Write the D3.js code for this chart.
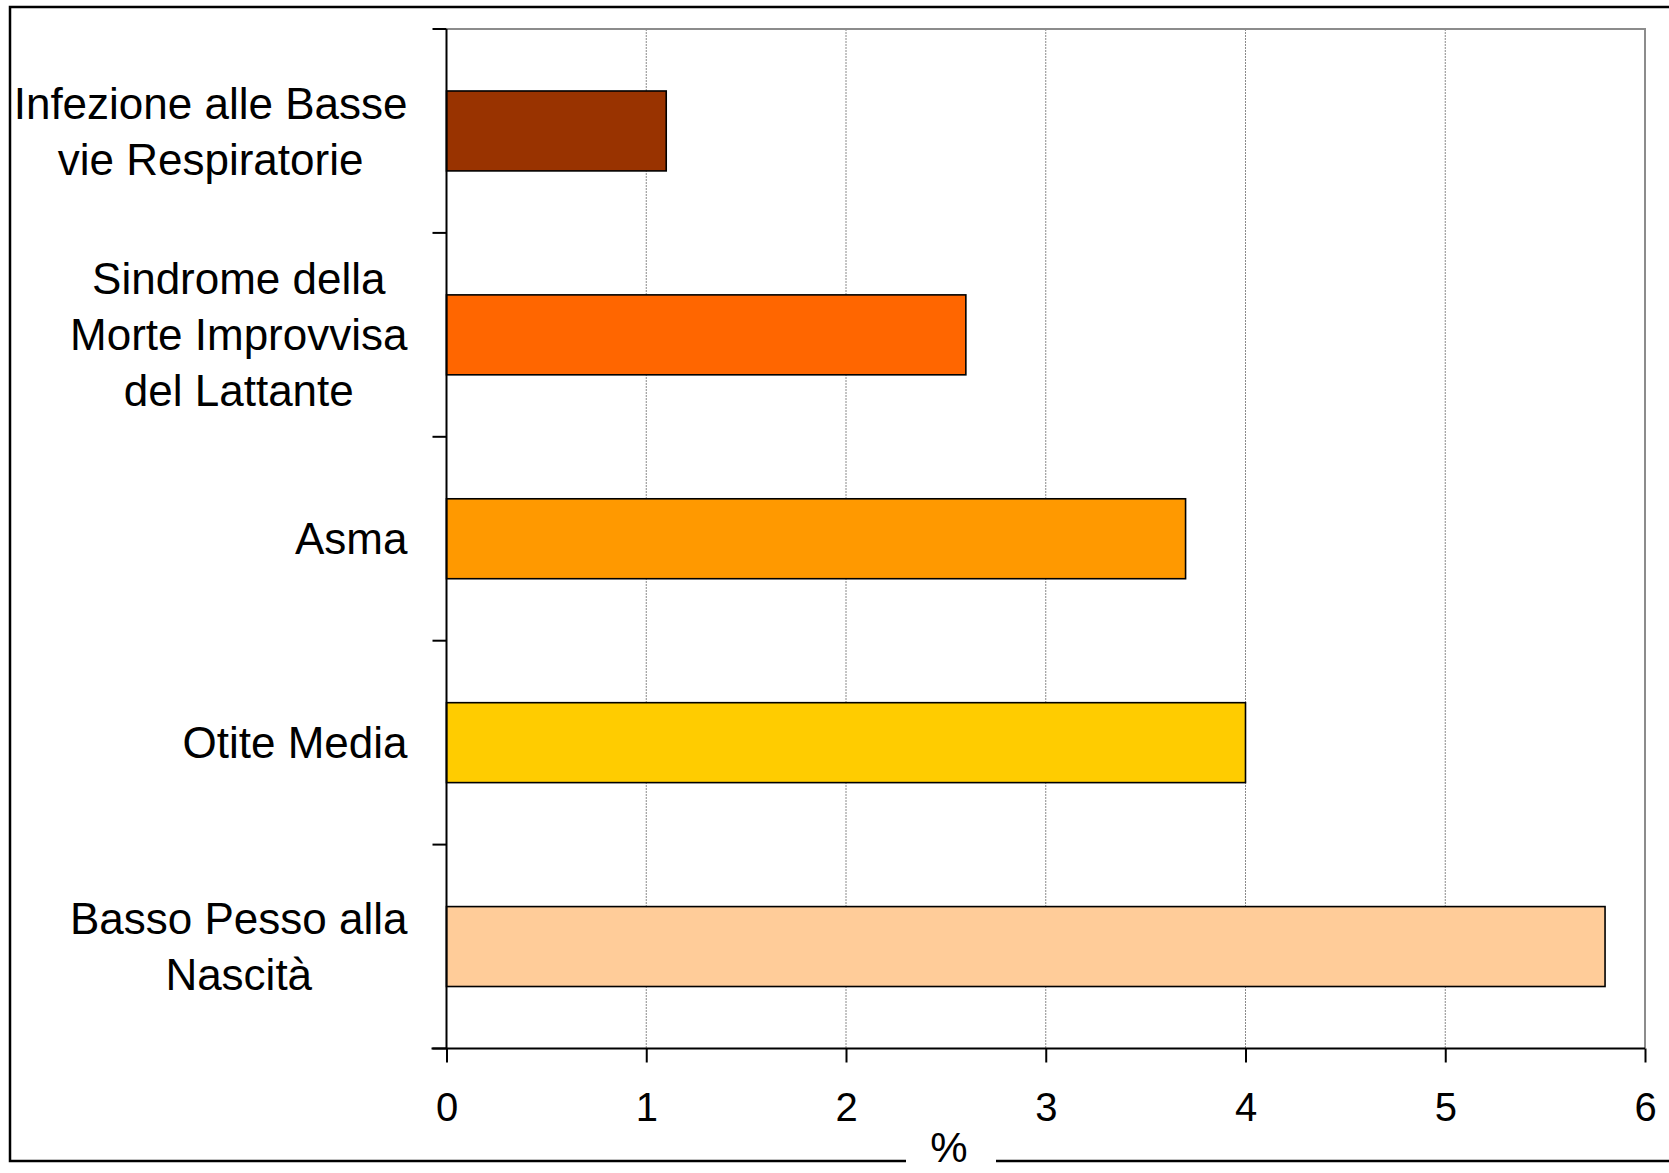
<!DOCTYPE html>
<html>
<head>
<meta charset="utf-8">
<script src="https://cdn.jsdelivr.net/npm/d3@7"></script>
<style>
  html, body { margin: 0; padding: 0; background: #fff; }
  svg { display: block; }
  text { font-family: "Liberation Sans", Arial, sans-serif; fill: #000; }
</style>
</head>
<body>
<script>
// Categories (top to bottom), one array of text lines per category
const categories = [
  ["Infezione alle Basse", "vie Respiratorie"],
  ["Sindrome della", "Morte Improvvisa", "del Lattante"],
  ["Asma"],
  ["Otite Media"],
  ["Basso Pesso alla", "Nascità"]
];
const values = [1.1, 2.6, 3.7, 4.0, 5.8];
const colors = ["#993300", "#FF6600", "#FF9900", "#FFCC00", "#FFCC99"];
const xTicks = [0, 1, 2, 3, 4, 5, 6];
const xTitle = "%";

const W = 1669, H = 1173;
const plot = { left: 446.5, right: 1645, top: 29, bottom: 1048.5 };
const labelFont = 44, tickFont = 40, lineGap = 56;

const svg = d3.select("body").append("svg")
  .attr("width", W).attr("height", H);

const keys = categories.map((c, i) => i);

const x = d3.scaleLinear().domain([0, 6]).range([plot.left, plot.right]);
const y = d3.scaleBand().domain(keys)
  .range([plot.top, plot.bottom])
  .paddingInner(0.608).paddingOuter(0.304);

// Outer chart frame (right side runs past the page edge)
svg.append("rect")
  .attr("x", 10).attr("y", 7)
  .attr("width", W + 20).attr("height", 1161 - 7)
  .attr("fill", "none").attr("stroke", "#000").attr("stroke-width", 2.5);

// Vertical gridlines
svg.append("g").selectAll("line")
  .data(xTicks.filter(t => t > 0 && t < 6))
  .join("line")
  .attr("x1", d => x(d)).attr("x2", d => x(d))
  .attr("y1", plot.top).attr("y2", plot.bottom)
  .attr("stroke", "#8a8a8a").attr("stroke-width", 1)
  .attr("stroke-dasharray", "2,1");

// Plot area border (top and right, grey)
svg.append("path")
  .attr("d", `M${plot.left},${plot.top}H${plot.right}V${plot.bottom}`)
  .attr("fill", "none").attr("stroke", "#8c8c8c").attr("stroke-width", 2);

// Bars
svg.append("g").selectAll("rect")
  .data(values)
  .join("rect")
  .attr("x", x(0))
  .attr("y", (d, i) => y(i))
  .attr("width", d => x(d) - x(0))
  .attr("height", y.bandwidth())
  .attr("fill", (d, i) => colors[i])
  .attr("stroke", "#000").attr("stroke-width", 1.6);

// X axis
const xAxis = d3.axisBottom(x).tickValues(xTicks).tickSize(14).tickPadding(30)
  .tickFormat(d3.format("d"));
const gx = svg.append("g")
  .attr("transform", `translate(0,${plot.bottom})`)
  .call(xAxis);
gx.select(".domain").attr("stroke", "#000").attr("stroke-width", 2)
  .attr("d", `M${plot.left - 15},0H${plot.right}`);
gx.selectAll(".tick line").attr("stroke", "#000").attr("stroke-width", 2);
gx.selectAll(".tick text")
  .attr("font-size", tickFont)
  .attr("font-family", "Liberation Sans, Arial, sans-serif")
  .attr("fill", "#000");

// Y axis: line with ticks at category boundaries
const boundaries = keys.map(k => y(k) - y.step() * y.paddingInner() / 2)
  .concat([plot.bottom]);
svg.append("line")
  .attr("x1", plot.left).attr("x2", plot.left)
  .attr("y1", plot.top).attr("y2", plot.bottom)
  .attr("stroke", "#000").attr("stroke-width", 2);
svg.append("g").selectAll("line")
  .data(boundaries)
  .join("line")
  .attr("x1", plot.left - 14).attr("x2", plot.left)
  .attr("y1", d => d).attr("y2", d => d)
  .attr("stroke", "#000").attr("stroke-width", 2);

// Category labels: block right-aligned, lines centred within block
const labelRight = 407.5;
const gl = svg.append("g");
categories.forEach((lines, i) => {
  const cy = y(i) + y.bandwidth() / 2;
  const g = gl.append("g");
  const texts = lines.map((ln, j) =>
    g.append("text")
      .attr("font-size", labelFont)
      .attr("text-anchor", "middle")
      .attr("y", cy + (j - (lines.length - 1) / 2) * lineGap + labelFont * 0.355)
      .text(ln));
  const maxW = d3.max(texts, t => t.node().getComputedTextLength());
  texts.forEach(t => t.attr("x", labelRight - maxW / 2));
});

// Axis title sitting on the bottom frame line, with a white gap behind it
svg.append("rect")
  .attr("x", 906).attr("y", 1148)
  .attr("width", 90).attr("height", 22)
  .attr("fill", "#fff");
svg.append("text")
  .attr("x", 949).attr("y", 1162)
  .attr("text-anchor", "middle")
  .attr("font-size", 42)
  .text(xTitle);
</script>
</body>
</html>
